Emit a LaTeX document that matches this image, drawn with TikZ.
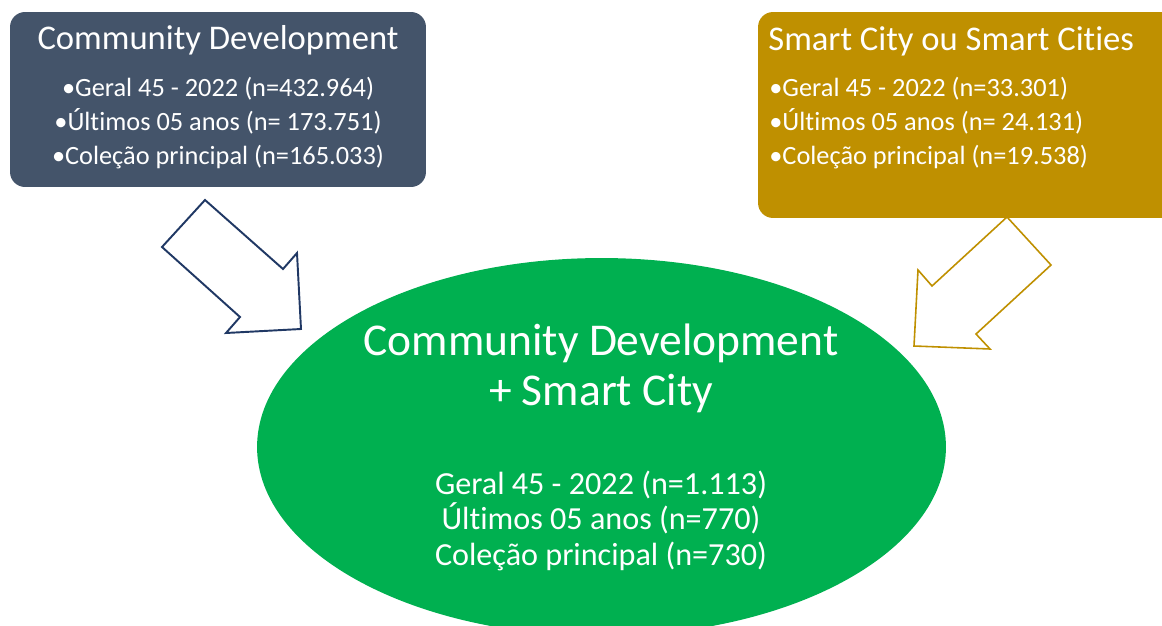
\documentclass[tikz,border=0pt]{standalone}
\usepackage{fontspec}
\setmainfont{Carlito}[Ligatures={NoCommon}]
\usetikzlibrary{shapes.geometric}

\definecolor{slate}{HTML}{44546A}
\definecolor{gold}{HTML}{BF9000}
\definecolor{leaf}{HTML}{00B050}
\definecolor{navy}{HTML}{203864}

\begin{document}
\begin{tikzpicture}
[x=0.02cm, y=-0.02cm,
% Box style
	topicbox/.style={
		rounded corners=0.3cm,
		inner sep=0pt},
% Text style (anchored on the last baseline)
	boxtext/.style={
		white,
		inner sep=0pt,
		anchor=base},
% Block arrow style
	blockarrow/.style={
		line width=1.1pt,
		line join=miter,
		fill=white},
]

\clip (0,0) rectangle (1162,625);

% Block arrows
\draw [blockarrow, draw=navy] (205,200) -- (162,247) -- (240,317) -- (226,333)
	-- (301,329) -- (297,253) -- (283,269) -- cycle;
\draw [blockarrow, draw=gold, line width=0.9pt] (1007,217) -- (1051,265) -- (976,334) -- (990,349)
	-- (914,346) -- (918,270) -- (932,286) -- cycle;

% Boxes
\node[topicbox, fill=slate,
	minimum width=8.32cm, minimum height=3.5cm] (cd) at (218,99.5) {};

\node[topicbox, fill=gold,
	minimum width=8.6cm, minimum height=4.12cm] (sc) at (973,115) {};

% Ellipse
\node[ellipse, fill=leaf, inner sep=0pt,
	minimum width=13.78cm, minimum height=7.56cm] (both) at (601.5,447) {};

% Box texts
\node[boxtext, font=\fontsize{19.7}{23}\selectfont] (cdtitle) at (218,50)
	{Community Development};
\node[boxtext, align=center, font=\fontsize{15}{19.2}\selectfont] (cdlist) at (218,164)
	{•Geral 45 - 2022 (n=432.964)\\•Últimos 05 anos (n= 173.751)\\•Coleção principal (n=165.033)};

\node[boxtext, anchor=base west, font=\fontsize{19.7}{23}\selectfont] (sctitle) at (768,51)
	{Smart City ou Smart Cities};
\node[boxtext, anchor=base west, align=left, font=\fontsize{15}{19.2}\selectfont] (sclist) at (769,164)
	{•Geral 45 - 2022 (n=33.301)\\•Últimos 05 anos (n= 24.131)\\•Coleção principal (n=19.538)};

% Ellipse texts
\node[boxtext, align=center, font=\fontsize{25.9}{27.9}\selectfont] (bothtitle) at (601,405)
	{Community Development\\+ Smart City};
\node[boxtext, align=center, font=\fontsize{18.3}{20.2}\selectfont] (bothlist) at (601,565)
	{Geral 45 - 2022 (n=1.113)\\Últimos 05 anos (n=770)\\Coleção principal (n=730)};

\end{tikzpicture}
\end{document}
